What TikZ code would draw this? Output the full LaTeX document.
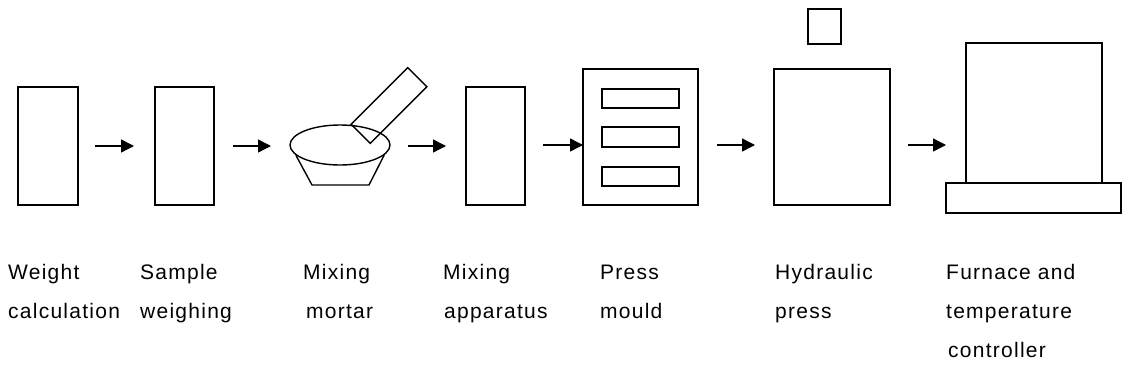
\documentclass[tikz,border=0pt]{standalone}
\usepackage{fontspec}
\newfontfamily\labelfont[LetterSpace=6]{Liberation Sans}
\usetikzlibrary{arrows.meta,shapes.geometric}
\begin{document}
\begin{tikzpicture}[x=1pt,y=-1pt,
  unit/.style={draw, line width=1.4pt, inner sep=0pt, outer sep=0pt, anchor=north west},
  flow/.style={line width=1.4pt, -{Triangle[length=13pt,width=13pt]}},
  caption/.style={anchor=base west, inner sep=0pt, font=\labelfont\fontsize{21}{21}\selectfont}]
  \useasboundingbox (0,0) rectangle (1124,388);

  % weight calculation and sample weighing
  \node[unit, minimum width=60pt, minimum height=118pt] (calc) at (18,87) {};
  \node[unit, minimum width=59pt, minimum height=118pt] (weigh) at (155,87) {};

  % mixing mortar: bowl, base and pestle
  \node[draw, line width=1.4pt, ellipse, inner sep=0pt, minimum width=100pt, minimum height=40pt] (bowl) at (340,145) {};
  \coordinate (bowlbl) at (312,185);
  \coordinate (bowlbr) at (369,185);
  \draw[line width=1.4pt, line join=round] (bowl.193) -- (bowlbl) -- (bowlbr) -- (bowl.347);
  \node[draw, line width=1.4pt, rotate=45, inner sep=0pt, minimum width=80pt, minimum height=27pt] (pestle) at (389,105.5) {};

  % mixing apparatus
  \node[unit, minimum width=59pt, minimum height=118pt] (mixer) at (466,87) {};

  % press mould with three cavities
  \node[unit, minimum width=115pt, minimum height=136pt] (mould) at (583,69) {};
  \node[unit, minimum width=77pt, minimum height=19pt] (slotA) at (602,89) {};
  \node[unit, minimum width=77pt, minimum height=20pt] (slotB) at (602,127) {};
  \node[unit, minimum width=77pt, minimum height=19pt] (slotC) at (602,167) {};

  % hydraulic press
  \node[unit, minimum width=33pt, minimum height=35pt] (ram) at (808,9) {};
  \node[unit, minimum width=116pt, minimum height=136pt] (press) at (774,69) {};

  % furnace on its controller base
  \node[unit, minimum width=136pt, minimum height=140pt] (furnace) at (966,43) {};
  \node[unit, minimum width=175pt, minimum height=30pt] (base) at (946,183) {};

  % process arrows
  \coordinate (a1s) at (95,146);  \coordinate (a1e) at (134,146);
  \coordinate (a2s) at (233,146); \coordinate (a2e) at (271,146);
  \coordinate (a3s) at (408,146); \coordinate (a3e) at (446,146);
  \coordinate (a4s) at (543,145);
  \coordinate (a5s) at (717,145); \coordinate (a5e) at (755,145);
  \coordinate (a6s) at (908,145); \coordinate (a6e) at (946,145);
  \draw[flow] (a1s) -- (a1e);
  \draw[flow] (a2s) -- (a2e);
  \draw[flow] (a3s) -- (a3e);
  \draw[flow] (a4s) -- (a4s -| mould.west);
  \draw[flow] (a5s) -- (a5e);
  \draw[flow] (a6s) -- (a6e);

  % captions
  \node[caption] (t1a) at (8,279) {Weight};
  \node[caption] (t1b) at (8,318) {calculation};
  \node[caption] (t2a) at (140,279) {Sample};
  \node[caption] (t2b) at (140,318) {weighing};
  \node[caption] (t3a) at (303,279) {Mixing};
  \node[caption] (t3b) at (306,318) {mortar};
  \node[caption] (t4a) at (443,279) {Mixing};
  \node[caption] (t4b) at (444,318) {apparatus};
  \node[caption] (t5a) at (600,279) {Press};
  \node[caption] (t5b) at (600,318) {mould};
  \node[caption] (t6a) at (775,279) {Hydraulic};
  \node[caption] (t6b) at (775,318) {press};
  \node[caption] (t7a) at (946,279) {Furnace and};
  \node[caption] (t7b) at (946,318) {temperature};
  \node[caption] (t7c) at (948,357) {controller};
\end{tikzpicture}
\end{document}
